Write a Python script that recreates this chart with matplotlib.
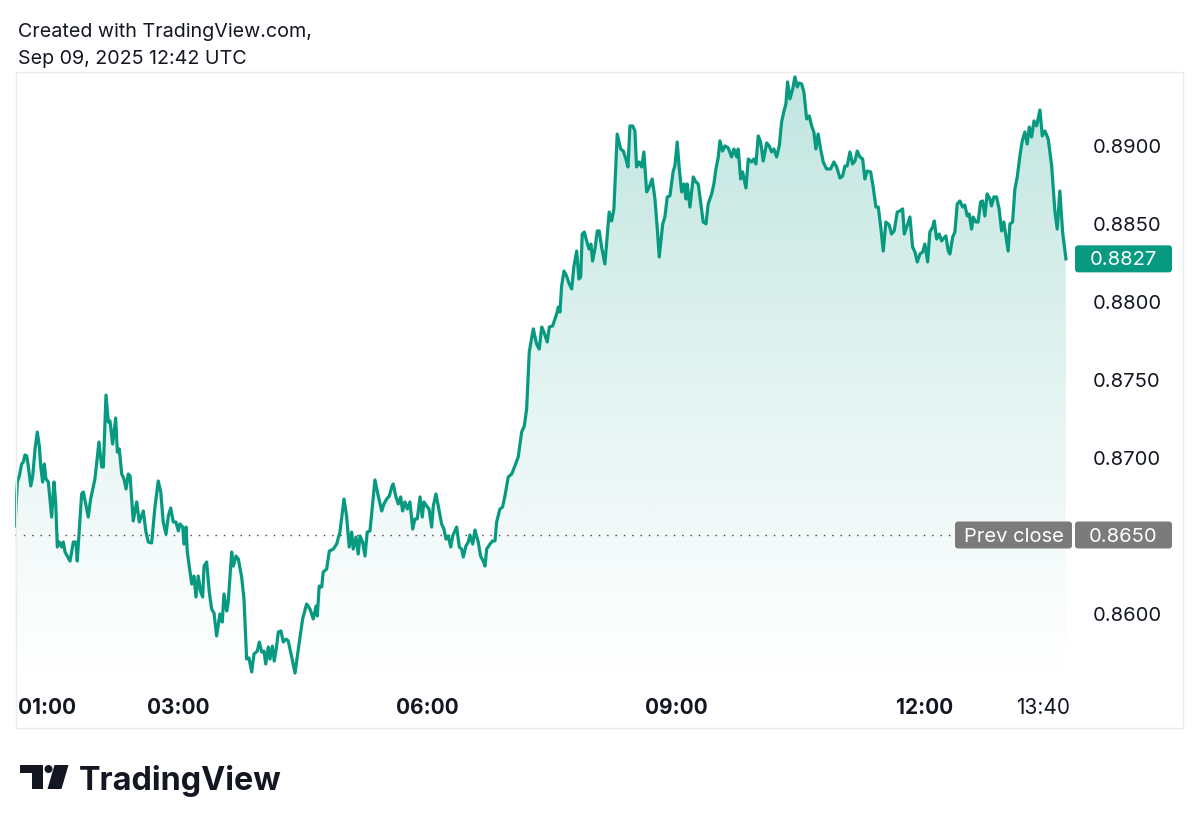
import numpy as np
import matplotlib.pyplot as plt
from matplotlib.colors import to_rgb
from matplotlib.patches import Rectangle, Circle, Polygon, FancyBboxPatch

# minutes since 01:00 UTC
minutes = [
    0.0, 1.7, 3.1, 4.8, 6.0, 7.2, 8.5, 9.6, 11.4, 12.8,
    14.5, 16.1, 17.6, 18.6, 20.0, 21.2, 22.4, 24.1, 25.3, 26.5,
    28.2, 29.4, 30.6, 32.0, 33.8, 34.9, 36.2, 39.8, 42.2, 44.1,
    45.0, 48.2, 49.4, 53.0, 54.7, 57.8, 60.7, 62.7, 63.9, 65.8,
    67.5, 68.7, 70.6, 72.8, 74.0, 75.4, 77.2, 78.8, 80.3, 81.9,
    83.2, 85.5, 88.0, 89.9, 92.8, 94.7, 96.4, 98.8, 101.2, 103.6,
    105.4, 107.2, 109.2, 110.9, 112.6, 114.5, 116.4, 118.1,
    119.3, 121.3, 122.2, 123.7, 124.6, 127.8, 129.4, 130.9, 132.5, 134.3,
    135.7, 136.7, 138.6, 140.5, 142.2, 143.9, 145.8, 148.2, 149.9, 151.1,
    153.1, 154.2, 156.7, 157.9, 159.8, 161.5, 163.9, 165.6, 167.5, 169.2,
    171.2, 172.8, 175.2, 176.7, 178.4, 180.1, 181.3, 183.2, 184.4, 186.1,
    187.5, 189.2, 190.4, 192.3, 194.0, 196.0, 197.6, 200.1, 202.5, 204.9,
    208.0, 210.9, 213.3, 215.7, 217.7, 218.6, 220.0, 221.8, 222.9, 225.4,
    227.3, 230.2, 232.6, 235.0, 237.9, 239.8, 241.7, 243.5, 244.6, 246.6,
    248.2,
    249.5, 251.4, 253.1, 254.7, 256.7, 260.3, 262.7, 265.2, 266.8, 268.8,
    270.7, 272.4, 273.5, 275.5, 277.2, 278.9, 280.3, 282.0, 283.7, 285.6,
    287.6, 289.2, 290.9, 292.9, 294.5, 295.7, 297.7, 299.4, 301.3, 302.5,
    304.4, 306.1, 308.5, 310.2, 311.7, 313.3, 315.1, 316.5, 319.4, 321.3,
    323.0, 324.2, 326.1, 327.8, 329.0, 331.0, 332.6, 335.0, 336.7, 338.6,
    339.9, 341.1, 343.5, 345.4, 347.1,
    348.3, 350.7, 352.6, 354.3, 356.7, 359.2, 361.5, 363.9, 366.4, 368.3,
    370.0, 371.9, 374.8, 377.2, 379.1, 380.9, 382.5, 384.9, 386.4, 388.8,
    390.5, 391.7, 392.9, 394.1, 395.3, 397.0, 398.9, 400.8, 402.6, 404.2,
    406.2, 407.8, 409.1, 410.2, 411.7, 413.4, 415.1, 416.5, 417.7, 419.4,
    421.1, 422.5, 424.2, 426.6, 428.3, 429.7, 431.5, 433.1, 435.5, 438.0,
    439.9, 441.8, 443.3, 444.7, 446.7, 448.3, 449.5, 451.4, 453.2, 454.8,
    456.8, 458.7, 460.8, 462.8, 464.5, 465.9,
    468.4, 470.0, 471.7, 473.6, 476.0, 477.2, 478.9, 480.4, 482.1, 483.8,
    485.2, 486.1, 488.1, 490.5, 492.4, 494.1, 495.8, 497.7, 499.7, 501.3,
    503.8, 505.4, 506.9, 508.6, 509.8, 511.7, 513.4, 515.8, 518.2, 519.9,
    521.9, 523.0, 524.8, 526.2, 528.6, 530.3, 532.7, 534.4, 535.8, 537.5,
    539.2, 541.1, 543.6, 545.4, 547.2, 548.8, 550.8, 552.7, 554.4, 556.1,
    557.5, 558.7, 560.4, 562.4, 564.0, 565.7, 567.1, 568.9, 570.5, 572.5,
    574.4, 576.1, 577.7, 579.2, 580.8, 582.6, 584.5, 586.9, 589.8, 592.2,
    594.2, 596.6, 598.5, 600.2, 601.8, 603.8, 605.7, 607.4, 609.1,
    611.0, 613.0, 614.6, 616.3, 618.8, 620.6, 622.6, 624.3, 626.0, 627.9,
    629.8, 632.2, 633.9, 635.8, 638.0, 639.9, 641.9, 643.1, 644.8, 647.2,
    649.1, 650.8, 652.5, 654.4, 656.4, 658.0, 660.0, 661.6, 663.6, 664.8,
    666.5, 668.4, 670.1, 671.8, 673.2, 674.9, 676.1, 678.1, 679.7, 681.4,
    683.3, 685.3, 686.9, 688.6, 690.0, 691.8, 692.9, 694.9, 696.5, 698.3,
    699.7, 701.4, 703.0, 705.0, 706.2, 707.9, 709.8, 711.7, 713.5, 715.1,
    716.6, 718.2, 719.5, 721.4, 723.1, 724.8, 726.7, 728.4, 730.3, 732.0,
    733.5, 735.2, 736.9, 738.8, 741.2, 742.9, 744.8, 747.2, 749.7, 752.0,
    753.7, 755.6, 757.6, 760.0,
]

prices = [
    0.86558, 0.86840, 0.86878, 0.86955, 0.86968, 0.87013, 0.87006, 0.86942, 0.86814, 0.86878,
    0.87051, 0.87160, 0.87070, 0.86942, 0.86840, 0.86955, 0.86859, 0.86840, 0.86731, 0.86615,
    0.86840, 0.86712, 0.86423, 0.86455, 0.86423, 0.86455, 0.86391, 0.86333, 0.86455, 0.86455,
    0.86333, 0.86763, 0.86776, 0.86615, 0.86731, 0.86859, 0.87096, 0.86936, 0.86936, 0.87397,
    0.87224, 0.87231, 0.87083, 0.87250, 0.87032, 0.87051, 0.86891, 0.86859, 0.86795, 0.86891,
    0.86878, 0.86590, 0.86712, 0.86583, 0.86654, 0.86519, 0.86455, 0.86449, 0.86679, 0.86846,
    0.86776, 0.86583, 0.86506, 0.86622, 0.86673, 0.86583, 0.86583, 0.86526,
    0.86571, 0.86551, 0.86442, 0.86551, 0.86391, 0.86186, 0.86237, 0.86103, 0.86237, 0.86135,
    0.86103, 0.86301, 0.86327, 0.86135, 0.86026, 0.86000, 0.85853, 0.85994, 0.85942, 0.86122,
    0.86013, 0.86071, 0.86391, 0.86301, 0.86365, 0.86346, 0.86231, 0.86090, 0.85705, 0.85712,
    0.85622, 0.85737, 0.85756, 0.85814, 0.85750, 0.85756, 0.85673, 0.85782, 0.85705, 0.85788,
    0.85692, 0.85788, 0.85878, 0.85885, 0.85814, 0.85833, 0.85821, 0.85718, 0.85615, 0.85769,
    0.85962, 0.86058, 0.86026, 0.85962, 0.86045, 0.85981, 0.86173, 0.86167, 0.86263, 0.86282,
    0.86397, 0.86410, 0.86442, 0.86519, 0.86731, 0.86622, 0.86423, 0.86519, 0.86410, 0.86487,
    0.86378,
    0.86494, 0.86455, 0.86365, 0.86519, 0.86526, 0.86853, 0.86750, 0.86654, 0.86699, 0.86731,
    0.86750, 0.86808, 0.86827, 0.86744, 0.86699, 0.86744, 0.86654, 0.86712, 0.86667, 0.86712,
    0.86538, 0.86603, 0.86603, 0.86744, 0.86615, 0.86712, 0.86686, 0.86667, 0.86551, 0.86686,
    0.86763, 0.86686, 0.86571, 0.86538, 0.86474, 0.86494, 0.86423, 0.86494, 0.86551, 0.86423,
    0.86410, 0.86359, 0.86429, 0.86455, 0.86500, 0.86442, 0.86532, 0.86455, 0.86365, 0.86333,
    0.86301, 0.86410, 0.86442, 0.86462, 0.86462,
    0.86583, 0.86667, 0.86679, 0.86750, 0.86872, 0.86891, 0.86942, 0.87000, 0.87160, 0.87199,
    0.87308, 0.87673, 0.87821, 0.87724, 0.87692, 0.87833, 0.87801, 0.87737, 0.87833, 0.87840,
    0.87885, 0.87917, 0.87961, 0.87929, 0.88096, 0.88192, 0.88160, 0.88109, 0.88077, 0.88224,
    0.88320, 0.88141, 0.88154, 0.88429, 0.88442, 0.88385, 0.88333, 0.88365, 0.88256, 0.88333,
    0.88449, 0.88449, 0.88346, 0.88237, 0.88417, 0.88570, 0.88513, 0.88590, 0.89070, 0.88974,
    0.88961, 0.88910, 0.88859, 0.89122, 0.89122, 0.89090, 0.88859, 0.88891, 0.88859, 0.88955,
    0.88699, 0.88731, 0.88782, 0.88654, 0.88461, 0.88282,
    0.88494, 0.88538, 0.88667, 0.88673, 0.88833, 0.88865, 0.89019, 0.88846, 0.88699, 0.88750,
    0.88654, 0.88750, 0.88602, 0.88795, 0.88763, 0.88750, 0.88635, 0.88506, 0.88494, 0.88622,
    0.88686, 0.88750, 0.88846, 0.88923, 0.89026, 0.88961, 0.88994, 0.88981, 0.88923, 0.88974,
    0.88923, 0.88974, 0.88782, 0.88827, 0.88724, 0.88910, 0.88891, 0.88910, 0.88878, 0.89058,
    0.89019, 0.88897, 0.89013, 0.88994, 0.88955, 0.88974, 0.88923, 0.88994, 0.89147, 0.89218,
    0.89263, 0.89404, 0.89295, 0.89359, 0.89436, 0.89372, 0.89397, 0.89391, 0.89340, 0.89167,
    0.89186, 0.89122, 0.89083, 0.88974, 0.89070, 0.88974, 0.88891, 0.88846, 0.88846, 0.88891,
    0.88859, 0.88788, 0.88801, 0.88865, 0.88865, 0.88955, 0.88878, 0.88897, 0.88961,
    0.88923, 0.88910, 0.88782, 0.88833, 0.88827, 0.88731, 0.88602, 0.88602, 0.88481, 0.88320,
    0.88506, 0.88487, 0.88429, 0.88449, 0.88570, 0.88577, 0.88590, 0.88429, 0.88474, 0.88538,
    0.88346, 0.88314, 0.88250, 0.88301, 0.88314, 0.88365, 0.88250, 0.88442, 0.88474, 0.88513,
    0.88397, 0.88429, 0.88385, 0.88404, 0.88417, 0.88320, 0.88301, 0.88410, 0.88442, 0.88622,
    0.88641, 0.88602, 0.88615, 0.88545, 0.88558, 0.88461, 0.88538, 0.88506, 0.88506, 0.88635,
    0.88641, 0.88545, 0.88686, 0.88654, 0.88609, 0.88667, 0.88667, 0.88590, 0.88449, 0.88506,
    0.88417, 0.88320, 0.88494, 0.88506, 0.88718, 0.88795, 0.88929, 0.89026, 0.89083, 0.89006,
    0.89115, 0.89051, 0.89154, 0.89122, 0.89224, 0.89058, 0.89090, 0.89038, 0.88865, 0.88577,
    0.88461, 0.88705, 0.88442, 0.88270,
]

prev_close = 0.8650
last_price = 0.8827
tick_prices = [0.8600, 0.8700, 0.8750, 0.8800, 0.8850, 0.8900]
time_labels = ["01:00", "03:00", "06:00", "09:00", "12:00", "13:40"]
time_marks = [0, 120, 300, 480, 660, 760]

green = "#089981"
gray_box = "#7b7b7b"
ink = "#131722"
W, H = 1200, 828

plt.rcParams['font.family'] = ['Inter', 'DejaVu Sans']

fig = plt.figure(figsize=(12, 8.28), dpi=100)
fig.patch.set_facecolor("white")

# main plot area in pixels: x 15..1068, y 72..690
ax = fig.add_axes([15 / W, (H - 690) / H, 1053 / W, 618 / H])
xmin, xmax = 0, 761.5
ymin, ymax = 0.85513, 0.89474
ax.set_xlim(xmin, xmax)
ax.set_ylim(ymin, ymax)
for s in ax.spines.values():
    s.set_visible(False)
ax.set_xticks([])
ax.yaxis.tick_right()
ax.set_yticks(tick_prices)
ax.set_yticklabels([f"{p:.4f}" for p in tick_prices])
ax.tick_params(axis="y", length=0, pad=18, labelsize=14.5, labelcolor=ink)

# gradient fill under the line
n = 256
frac = np.linspace(0, 1, n)[:, None]
rgba = np.zeros((n, 1, 4))
rgba[..., :3] = to_rgb(green)
rgba[..., 3] = 0.26 * frac ** 1.15
im = ax.imshow(rgba, extent=[xmin, xmax, ymin, ymax], origin="lower",
               aspect="auto", zorder=1, interpolation="bilinear")
poly = ax.fill_between(minutes, prices, ymin, color="none", lw=0)
im.set_clip_path(poly.get_paths()[0], transform=ax.transData)

ax.plot(minutes, prices, color=green, lw=2.3, zorder=3, solid_joinstyle="round")

# prev close dotted line up to the label box
label_left_px = 955
t_label = (label_left_px - 15) / 1053 * (xmax - xmin)
ax.hlines(prev_close, xmin, t_label, colors="#444444", lw=1.0,
          linestyles=(0, (1, 5)), zorder=2)

# time labels
xt = ax.get_xaxis_transform()
for lab, t in zip(time_labels, time_marks):
    if t == time_marks[0]:
        ax.text(t + 2, -0.029, lab, transform=xt, ha="left", va="center",
                fontsize=15, fontweight="bold", color=ink)
    elif t == time_marks[-1]:
        ax.text(t + 3, -0.029, lab, transform=xt, ha="right", va="center",
                fontsize=15, color=ink)
    else:
        ax.text(t - 2, -0.029, lab, transform=xt, ha="center", va="center",
                fontsize=15, fontweight="bold", color=ink)

# overlay in pixel coordinates (top-left origin)
ov = fig.add_axes([0, 0, 1, 1], zorder=5)
ov.set_xlim(0, W)
ov.set_ylim(H, 0)
ov.axis("off")
ov.patch.set_alpha(0)


def py(p):
    return H - ax.transData.transform((0, p))[1]


ov.add_patch(Rectangle((16, 72.5), 1167, 656, fill=False, ec="#ebebeb", lw=1))

# price label boxes
for x0, w, txt, col, p in [(1075, 97, f"{last_price:.4f}", green, last_price),
                           (955, 117, "Prev close", gray_box, prev_close),
                           (1075, 97, f"{prev_close:.4f}", gray_box, prev_close)]:
    yc = py(p)
    ov.add_patch(FancyBboxPatch((x0, yc - 13.5), w, 27,
                                boxstyle="round,pad=0,rounding_size=3",
                                fc=col, ec="none"))
    ov.text(x0 + w / 2, yc + 0.5, txt, ha="center", va="center",
            fontsize=14.5, color="white")

# header
ov.text(18, 37, "Created with TradingView.com,", fontsize=14.2,
        color=ink, va="baseline")
ov.text(18, 64, "Sep 09, 2025 12:42 UTC", fontsize=14.2,
        color=ink, va="baseline")

# footer logo
ov.add_patch(Polygon([(20, 766), (43, 766), (43, 790), (32, 790), (32, 774), (20, 774)],
                     closed=True, fc=ink, ec="none"))
ov.add_patch(Circle((48.5, 770), 4, fc=ink, ec="none"))
ov.add_patch(Polygon([(54.5, 766), (68.5, 766), (61.5, 790), (47.5, 790)],
                     closed=True, fc=ink, ec="none"))
ov.text(79, 790, "TradingView", fontsize=23.3, fontweight="bold",
        color=ink, va="baseline")

fig.savefig("out.png", dpi=100, facecolor="white")
